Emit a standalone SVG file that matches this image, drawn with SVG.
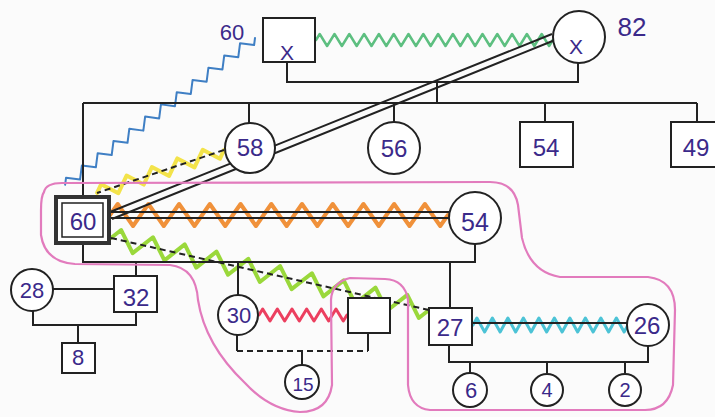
<svg xmlns="http://www.w3.org/2000/svg" width="715" height="417" viewBox="0 0 715 417">
<style>
.ln{fill:none;stroke:#222;stroke-width:2}
.dash{fill:none;stroke:#222;stroke-width:2;stroke-dasharray:6 4}
.zz{fill:none;stroke-linejoin:round;stroke-linecap:round}
.nd{fill:#fff;stroke:#222;stroke-width:2}
.t{font-family:"Liberation Sans",Arial,sans-serif;fill:#3b2a8a;text-anchor:middle}
.pink{fill:none;stroke:#e27bbd;stroke-width:2.2}
</style>
<rect width="715" height="417" fill="#fbfbfb"/>
<g id="connectors">
<!-- relationship zigzags -->
<path class="zz" stroke="#5dbf80" stroke-width="2.5" transform="translate(316,40)" d="M0,0 l3.7,-6 l7.4,12 l7.4,-12 l7.4,12 l7.4,-12 l7.4,12 l7.4,-12 l7.4,12 l7.4,-12 l7.4,12 l7.4,-12 l7.4,12 l7.4,-12 l7.4,12 l7.4,-12 l7.4,12 l7.4,-12 l7.4,12 l7.4,-12 l7.4,12 l7.4,-12 l7.4,12 l7.4,-12 l7.4,12 l7.4,-12 l7.4,12 l7.4,-12 l7.4,12 l7.4,-12 l7.4,12 l7.4,-12 l7.4,12 l3.7,-6"/>
<path class="zz" stroke="#3f7fc4" stroke-width="2" transform="translate(255,38) rotate(142.3)" d="M0,0 l5,-5 l10,10 l10,-10 l10,10 l10,-10 l10,10 l10,-10 l10,10 l10,-10 l10,10 l10,-10 l10,10 l10,-10 l10,10 l10,-10 l10,10 l10,-10 l10,10 l10,-10 l10,10 l10,-10 l10,10 l10,-10 l10,10 l5,-5"/>
<path class="zz" stroke="#f3e34a" stroke-width="4" transform="translate(224,150) rotate(161.3)" d="M0,0 l6.7,-7 l13.4,14 l13.4,-14 l13.4,14 l13.4,-14 l13.4,14 l13.4,-14 l13.4,14 l13.4,-14 l13.4,14 l6.7,-7"/>
<path class="zz" stroke="#f0913a" stroke-width="4" transform="translate(110,215)" d="M0,0 l7.68,-11 l15.36,22 l15.36,-22 l15.36,22 l15.36,-22 l15.36,22 l15.36,-22 l15.36,22 l15.36,-22 l15.36,22 l15.36,-22 l15.36,22 l15.36,-22 l15.36,22 l15.36,-22 l15.36,22 l15.36,-22 l15.36,22 l15.36,-22 l15.36,22 l15.36,-22 l15.36,22 l7.68,-11"/>
<path class="zz" stroke="#9ad83b" stroke-width="4" transform="translate(111,238) rotate(12.76)" d="M0,0 l8.15,-10 l16.3,20 l16.3,-20 l16.3,20 l16.3,-20 l16.3,20 l16.3,-20 l16.3,20 l16.3,-20 l16.3,20 l16.3,-20 l16.3,20 l16.3,-20 l16.3,20 l16.3,-20 l16.3,20 l16.3,-20 l16.3,20 l16.3,-20 l16.3,20 l8.15,-10"/>
<path class="zz" stroke="#ec3f5f" stroke-width="3" transform="translate(259,315)" d="M0,0 l3.67,-6 l7.33,12 l7.33,-12 l7.33,12 l7.33,-12 l7.33,12 l7.33,-12 l7.33,12 l7.33,-12 l7.33,12 l7.33,-12 l7.33,12 l3.67,-6"/>
<path class="zz" stroke="#4cc3d6" stroke-width="3" transform="translate(473,325)" d="M0,0 l3.875,-7 l7.75,14 l7.75,-14 l7.75,14 l7.75,-14 l7.75,14 l7.75,-14 l7.75,14 l7.75,-14 l7.75,14 l7.75,-14 l7.75,14 l7.75,-14 l7.75,14 l7.75,-14 l7.75,14 l7.75,-14 l7.75,14 l7.75,-14 l7.75,14 l3.875,-7"/>
<!-- black relationship lines -->
<path class="dash" d="M224,150 L97,193"/>
<path class="dash" d="M111,238 L429,310"/>
<path class="ln" d="M109,212 H449 M109,218 H449"/>
<path class="ln" d="M552,34 L110,212 M555,40 L112,219"/>
<path class="ln" d="M473,323 H628"/>
<!-- family lines -->
<path class="ln" d="M287,62 V82 H578 V63 M437,82 V103 M83,103 H697 M83,103 V197 M249,103 V123 M394,103 V122 M545,103 V122 M697,103 V122"/>
<path class="ln" d="M83,243 V262 H475 V243 M136,262 V276 M238,262 V295 M450,262 V308"/>
<path class="ln" d="M52,289 H114 M33,311 V325 H136 V312 M78,325 V343"/>
<path class="ln" d="M237,335 V351 M368,333 V351 M302,351 V365"/>
<path class="dash" d="M237,351 H368"/>
<path class="ln" d="M449,345 V362 H648 V346 M470,362 V373 M547,362 V373 M625,362 V373"/>
</g>
<path id="boundary" class="pink" d="M44,192 Q46,183 62,183 L490,182 Q514,182 518,205 L522,238 Q530,272 560,277 L648,277 Q675,280 675,310 L673,385 Q668,410 645,410 L430,410 Q410,408 408,385 L408,300 Q405,280 385,279 L350,278 Q332,282 331,300 L332,385 Q328,412 300,412 Q270,410 245,383 Q205,345 198,300 Q196,268 170,265 L75,264 Q45,262 41,235 L41,210 Q41,196 44,192 Z"/>
<g id="gf"><rect class="nd" x="263" y="18" width="52" height="44"/><text class="t" x="287" y="60" font-size="21">X</text><text class="t" x="232" y="40" font-size="22">60</text></g>
<g id="gm"><circle class="nd" cx="579" cy="37" r="26"/><text class="t" x="576" y="54" font-size="21">X</text><text class="t" x="632" y="36" font-size="26">82</text></g>
<g id="p60"><rect x="56" y="197" width="53" height="46" fill="#fff" stroke="#333" stroke-width="4"/><rect x="62" y="203" width="41" height="34" fill="none" stroke="#222" stroke-width="1.5"/><text class="t" x="83" y="230" font-size="24">60</text></g>
<g id="p58"><circle class="nd" cx="250" cy="148" r="25"/><text class="t" x="250" y="156" font-size="24">58</text></g>
<g id="p56"><circle class="nd" cx="394" cy="148" r="26"/><text class="t" x="394" y="157" font-size="24">56</text></g>
<g id="p54m"><rect class="nd" x="520" y="122" width="53" height="45"/><text class="t" x="546" y="156" font-size="24">54</text></g>
<g id="p49"><rect class="nd" x="671" y="122" width="53" height="45"/><text class="t" x="696" y="156" font-size="24">49</text></g>
<g id="p54f"><circle class="nd" cx="475" cy="218" r="26"/><text class="t" x="475" y="231" font-size="25">54</text></g>
<g id="p28"><circle class="nd" cx="32" cy="290" r="21"/><text class="t" x="32" y="298" font-size="22">28</text></g>
<g id="p32"><rect class="nd" x="114" y="276" width="43" height="36"/><text class="t" x="136" y="306" font-size="24">32</text></g>
<g id="p8"><rect class="nd" x="62" y="343" width="33" height="30"/><text class="t" x="78" y="365" font-size="22">8</text></g>
<g id="p30"><circle class="nd" cx="238" cy="315" r="20"/><text class="t" x="239" y="323" font-size="22">30</text></g>
<g id="ppartner"><rect class="nd" x="348" y="298" width="42" height="35"/></g>
<g id="p15"><circle class="nd" cx="302" cy="382" r="17"/><text class="t" x="303" y="391" font-size="19">15</text></g>
<g id="p27"><rect class="nd" x="429" y="308" width="43" height="37"/><text class="t" x="450" y="336" font-size="24">27</text></g>
<g id="p26"><circle class="nd" cx="648" cy="325" r="21"/><text class="t" x="647" y="334" font-size="24">26</text></g>
<g id="p6"><circle class="nd" cx="470" cy="390" r="17"/><text class="t" x="471" y="398" font-size="22">6</text></g>
<g id="p4"><circle class="nd" cx="547" cy="390" r="16"/><text class="t" x="547" y="397" font-size="20">4</text></g>
<g id="p2"><circle class="nd" cx="625" cy="390" r="16"/><text class="t" x="625" y="397" font-size="20">2</text></g>
</svg>
